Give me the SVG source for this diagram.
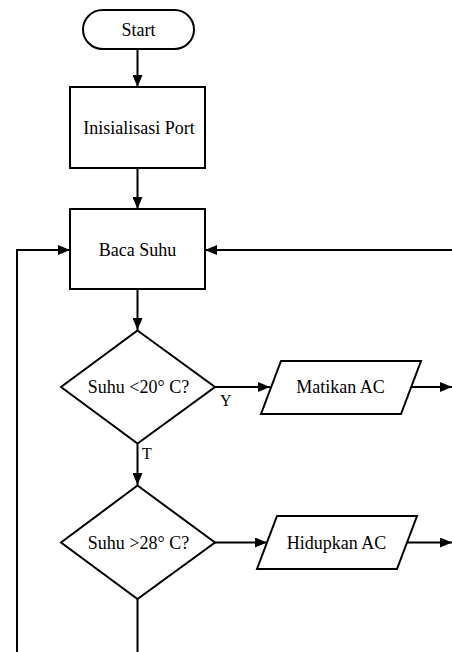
<svg xmlns="http://www.w3.org/2000/svg" width="452" height="652" viewBox="0 0 452 652">
<style>
.s{fill:#fff;stroke:#000;stroke-width:2}
.t{font-family:'Liberation Serif',serif;font-size:18px;fill:#000;text-anchor:middle}
.l{font-family:'Liberation Serif',serif;font-size:16px;fill:#000}
.c{fill:none;stroke:#000;stroke-width:2}
</style>
<defs>
<marker id="a" markerWidth="12" markerHeight="10" refX="12" refY="5" orient="auto" markerUnits="userSpaceOnUse">
<path d="M0,0 L12,5 L0,10 Z" fill="#000"/>
</marker>
</defs>
<rect width="452" height="652" fill="#fff"/>
<g id="connectors">
<path class="c" d="M137.5,49 V87" marker-end="url(#a)"/>
<path class="c" d="M137.5,168 V209" marker-end="url(#a)"/>
<path class="c" d="M137.5,289 V330" marker-end="url(#a)"/>
<path class="c" d="M215,387 H270" marker-end="url(#a)"/>
<path class="c" d="M411,387 H452" marker-end="url(#a)"/>
<path class="c" d="M137.5,443.5 V485" marker-end="url(#a)"/>
<path class="c" d="M215,542.5 H267" marker-end="url(#a)"/>
<path class="c" d="M407,542.5 H452" marker-end="url(#a)"/>
<path class="c" d="M137.5,599 V652"/>
<path class="c" d="M17,652 V250 H70" marker-end="url(#a)"/>
<path class="c" d="M452,250 H205" marker-end="url(#a)"/>
<text class="l" x="220" y="406" font-family="Liberation Serif">Y</text>
<text class="l" x="142" y="459" font-family="Liberation Serif">T</text>
</g>
<g id="start">
<rect class="s" x="83" y="10" width="111" height="39" rx="19.5"/>
<text class="t" x="138.5" y="35.5" font-family="Liberation Serif">Start</text>
</g>
<g id="init">
<rect class="s" x="70" y="87" width="135" height="81"/>
<text class="t" x="139" y="134" font-family="Liberation Serif">Inisialisasi Port</text>
</g>
<g id="baca">
<rect class="s" x="70" y="209" width="135" height="80"/>
<text class="t" x="137.5" y="255.5" font-family="Liberation Serif">Baca Suhu</text>
</g>
<g id="dec1">
<polygon class="s" points="137.5,330.5 215,387 137.5,443.5 61,387"/>
<text class="t" x="138.5" y="393" font-family="Liberation Serif">Suhu &lt;20° C?</text>
</g>
<g id="matikan">
<polygon class="s" points="281,361 421,361 401,414 261,414"/>
<text class="t" x="340.5" y="393" font-family="Liberation Serif">Matikan AC</text>
</g>
<g id="dec2">
<polygon class="s" points="137.5,485.5 215,542.5 137.5,599 61,542.5"/>
<text class="t" x="138.5" y="548.5" font-family="Liberation Serif">Suhu &gt;28° C?</text>
</g>
<g id="hidupkan">
<polygon class="s" points="277,516 417,516 397,569 257,569"/>
<text class="t" x="336.5" y="548.5" font-family="Liberation Serif">Hidupkan AC</text>
</g>
</svg>
